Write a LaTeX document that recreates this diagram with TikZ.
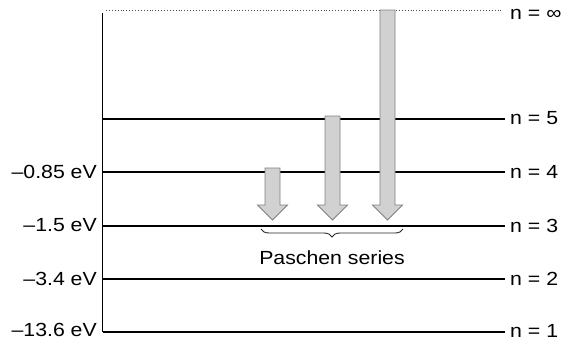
\documentclass[tikz,border=0pt]{standalone}
\usepackage{fontspec}
\setmainfont{Liberation Sans}
\usetikzlibrary{decorations.pathreplacing}
\newcommand{\lbl}[1]{\scalebox{1.12}[1]{\fontsize{19}{20}\selectfont #1}}
\tikzset{
  level/.style={line width=1.6pt, draw=black},
  emit/.style={fill=black!18, draw=black!50, line width=0.9pt, line join=miter},
  rlab/.style={anchor=west, inner sep=0pt},
  llab/.style={anchor=east, inner sep=0pt},
}
\begin{document}
\begin{tikzpicture}[x=1pt,y=-1pt]
\useasboundingbox (0,0) rectangle (572,340);
% axis
\coordinate (atop) at (102.5,13);
\coordinate (abot) at (102.5,332);
\draw[level] (atop) -- (abot);
% levels
\foreach \nm/\yy in {l1/332,l2/279,l3/226,l4/172,l5/119}{
  \coordinate (\nm a) at (102.5,\yy);
  \coordinate (\nm b) at (505,\yy);
  \draw[level] (\nm a) -- (\nm b);
}
\coordinate (infa) at (106,10);
\coordinate (infb) at (502,10);
\draw[dotted, line width=0.9pt, black!70] (infa) -- (infb);
% right labels
\node[rlab] (n1) at (510,330.5) {\lbl{n = 1}};
\node[rlab] (n2) at (510,278.5) {\lbl{n = 2}};
\node[rlab] (n3) at (510,225.5) {\lbl{n = 3}};
\node[rlab] (n4) at (510,171.5) {\lbl{n = 4}};
\node[rlab] (n5) at (510,118.5) {\lbl{n = 5}};
\node[rlab] (ninf) at (510,14) {\lbl{n = ∞}};
% left labels
\node[llab] (e1) at (97,330) {\lbl{–13.6 eV}};
\node[llab] (e2) at (97,278.5) {\lbl{–3.4 eV}};
\node[llab] (e3) at (97,225.5) {\lbl{–1.5 eV}};
\node[llab] (e4) at (97,171.5) {\lbl{–0.85 eV}};
% arrows
\foreach \cx/\top in {272.5/168, 332.5/116, 387.5/10}{
  \draw[emit] (\cx-7.5,\top) -- (\cx+7.5,\top) -- (\cx+7.5,205) -- (\cx+15,205)
     -- (\cx,220) -- (\cx-15,205) -- (\cx-7.5,205) -- cycle;
}
% brace
\coordinate (bra) at (261,229);
\coordinate (brb) at (403,229);
\draw[decorate, decoration={brace, mirror, amplitude=8pt}, line width=0.9pt, black!85] (bra) -- (brb);
\node (pas) at (332,258) {\lbl{Paschen series}};
\end{tikzpicture}
\end{document}
